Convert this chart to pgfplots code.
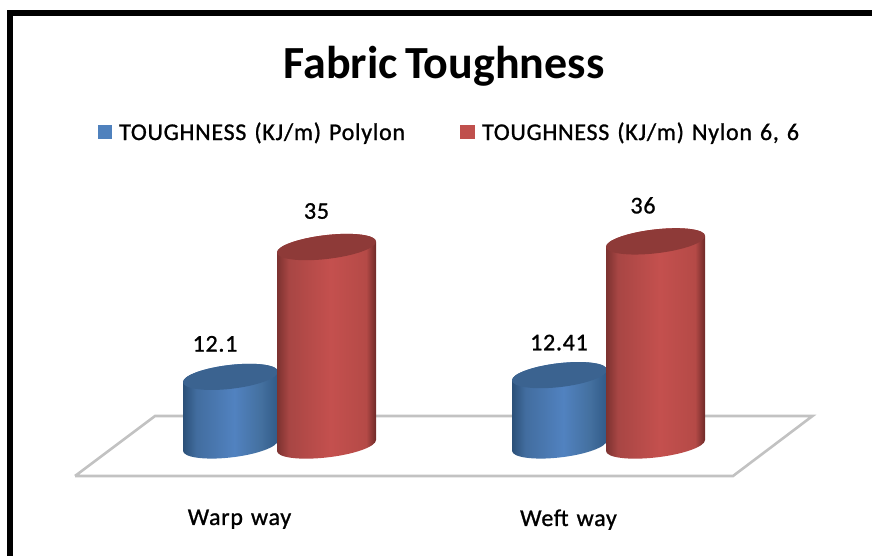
\documentclass[border=0pt]{standalone}
\usepackage{pgfplots}
\pgfplotsset{compat=1.18}
\usepackage{fontspec}
\setmainfont{Carlito}
\newfontfamily\labfont[LetterSpace=3.0,WordSpace=1.3,FakeBold=1.0]{Carlito}
\newfontfamily\titlefont[WordSpace=0.7]{Carlito Bold}
\definecolor{bA}{HTML}{2B5078}\definecolor{bB}{HTML}{426D9F}\definecolor{bC}{HTML}{5182C0}\definecolor{bD}{HTML}{44709F}\definecolor{bE}{HTML}{305A88}
\definecolor{rA}{HTML}{7C3230}\definecolor{rB}{HTML}{A84644}\definecolor{rC}{HTML}{C4504E}\definecolor{rD}{HTML}{B54A47}\definecolor{rE}{HTML}{752D2B}
\definecolor{bTop}{HTML}{3B6390}\definecolor{rTop}{HTML}{8E3A38}
\pgfdeclarehorizontalshading{cylB}{100bp}{color(0bp)=(bA);color(25bp)=(bA);color(32bp)=(bB);color(52bp)=(bC);color(66bp)=(bD);color(75bp)=(bE);color(100bp)=(bE)}
\pgfdeclarehorizontalshading{cylR}{100bp}{color(0bp)=(rA);color(25bp)=(rA);color(31bp)=(rB);color(52bp)=(rC);color(70bp)=(rD);color(74.5bp)=(rE);color(75bp)=(rE);color(100bp)=(rE)}
\newcommand\cylbody[5]{% shift, half width, shading, top colour, slant
  \pgfmathsetmacro\hh{\yval*5.67}%
  \pgftransformcm{1}{#5}{0}{1}{\pgfqpoint{#1pt}{0pt}}%
  \path[draw=none,shading=#3] (-#2pt,0pt) -- (-#2pt,-\hh pt) arc[start angle=180,end angle=360,x radius=#2pt,y radius=12pt] -- (#2pt,0pt) arc[start angle=0,end angle=180,x radius=#2pt,y radius=12pt] -- cycle;
  \path[draw=none,fill=#4] (0pt,0pt) ellipse[x radius=#2pt,y radius=12pt];}
\pgfdeclareplotmark{cylBlue}{\cylbody{-9}{47.5}{cylB}{bTop}{0.11}}
\pgfdeclareplotmark{cylRed}{\cylbody{87}{49.5}{cylR}{rTop}{0.11}}
\newcommand\lab{\labfont\fontsize{24}{27}\selectfont}
\begin{document}
\begin{tikzpicture}[x=1pt,y=1pt]
\useasboundingbox (0,0) rectangle (872,556);
\begin{axis}[
  at={(0pt,79pt)},anchor=south west,
  scale only axis,width=872pt,height=477pt,
  xmin=-0.72796,xmax=1.92249,ymin=-5.556,ymax=78.57,
  clip=false,
  axis line style={draw=none},
  major tick length=0pt,
  ytick=\empty,
  xtick={0,1},xticklabels={Warp way,Weft way},
  xticklabel style={font=\lab,yshift=-29pt},
  legend columns=2,
  legend style={draw=none,fill=none,at={(axis description cs:0.1124,0.7233)},anchor=west,inner sep=0pt,font=\lab,
    /tikz/every even column/.append style={column sep=53pt}},
  legend cell align=left,
]
\addplot[forget plot,draw=black!24,line width=2.6pt,line join=miter] coordinates {(-0.5,-5.38)(-0.2568,5.2)(1.7416,5.2)(1.5,-5.38)(-0.5,-5.38)};
\addplot[scatter,only marks,mark=cylBlue,visualization depends on={y \as \yval},
  legend image code/.code={\path[draw=none,fill={rgb,255:red,79;green,129;blue,189}] (0pt,-7pt) rectangle (14pt,7pt);\path[draw=none] (0pt,0pt) -- (19pt,0pt);}] coordinates {(0,12.1)(1,12.41)};
\addlegendentry{TOUGHNESS (KJ/m) Polylon}
\addplot[scatter,only marks,mark=cylRed,visualization depends on={y \as \yval},
  legend image code/.code={\path[draw=none,fill={rgb,255:red,192;green,80;blue,77}] (0pt,-7pt) rectangle (15pt,7pt);\path[draw=none] (0pt,0pt) -- (20pt,0pt);}] coordinates {(0,35)(1,36)};
\addlegendentry{TOUGHNESS (KJ/m) Nylon 6, 6}
\node[font=\lab] at (axis cs:0,12.1) [xshift=-24.5pt,yshift=33pt] {12.1};
\node[font=\lab] at (axis cs:1,12.41) [xshift=-9.5pt,yshift=32.5pt] {12.41};
\node[font=\lab] at (axis cs:0,35) [xshift=77pt,yshift=36pt] {35};
\node[font=\lab] at (axis cs:1,36) [xshift=74.5pt,yshift=36pt] {36};
\end{axis}
\fill[black] (7,0) rectangle (13,546);
\fill[black] (7,540) rectangle (872,546);
\node[anchor=base,font=\titlefont\fontsize{46}{50}\selectfont] at (444,477) {Fabric Toughness};
\end{tikzpicture}
\end{document}
